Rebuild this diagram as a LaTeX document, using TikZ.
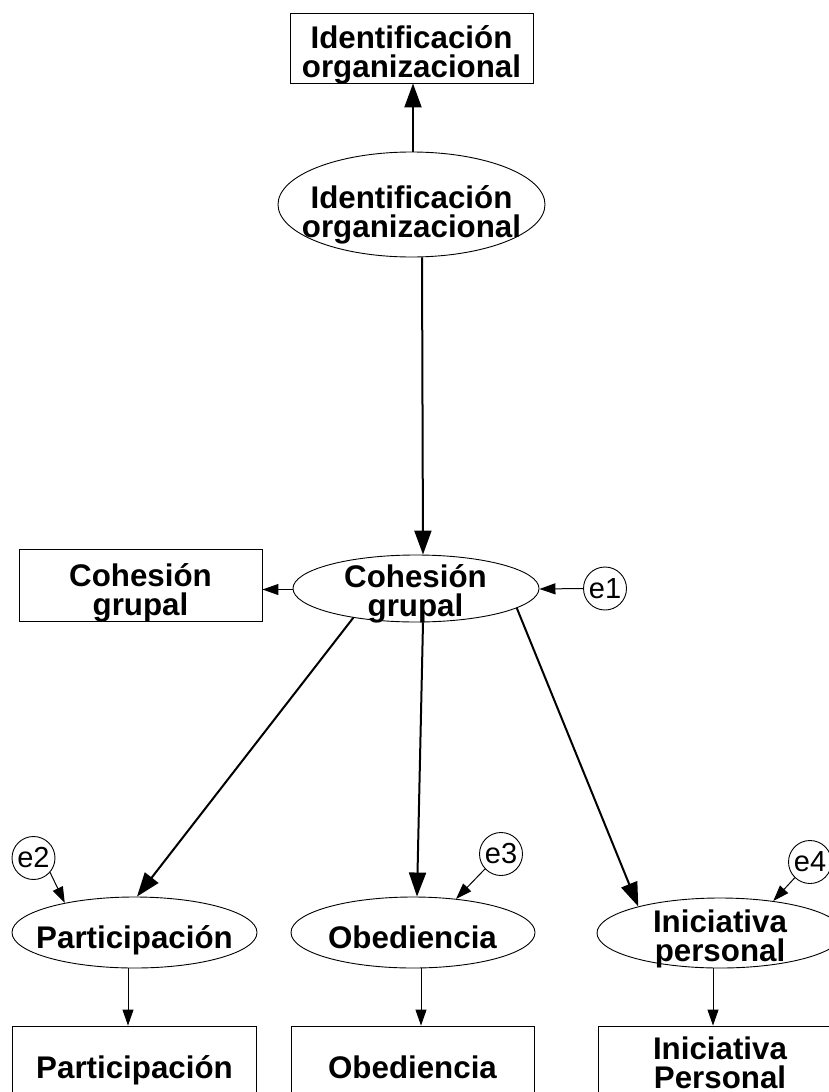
\documentclass[tikz,border=0pt]{standalone}
\usepackage{fontspec}
\setmainfont{Liberation Sans}
\usetikzlibrary{shapes.geometric,arrows.meta,calc}
\begin{document}
\begin{tikzpicture}[x=1pt,y=-1pt,
  latent/.style={draw, ellipse, line width=0.9pt, inner sep=0pt},
  obs/.style={draw, rectangle, line width=0.9pt, inner sep=0pt},
  err/.style={draw, circle, line width=0.9pt, inner sep=0pt, minimum size=43pt, font=\fontsize{29}{29}\selectfont},
  lbl/.style={align=center, anchor=base, font=\fontsize{31.3}{29}\selectfont\bfseries, inner sep=0pt},
  big/.style={line width=2pt, -{Triangle[length=24pt,width=17pt]}},
  small/.style={line width=1pt, -{Triangle[length=16pt,width=11pt]}}]
\fill[white] (0,0) rectangle (829,1092);
\useasboundingbox (0,0) rectangle (829,1092);
\node[obs, minimum width=243pt, minimum height=70pt] (IOb) at (411.5,48) {};
\node[latent, minimum width=267pt, minimum height=105pt] (IOe) at (411.5,204.5) {};
\node[obs, minimum width=243pt, minimum height=72pt] (CGb) at (140.5,585) {};
\node[latent, minimum width=246pt, minimum height=67pt] (CGe) at (416,588.5) {};
\node[err] (e1) at (605,588.5) {e1};
\node[err] (e2) at (33.5,858) {e2};
\node[err] (e3) at (501,854) {e3};
\node[err] (e4) at (810,862) {e4};
\node[latent, minimum width=245pt, minimum height=71pt] (Pe) at (134.5,932.5) {};
\node[latent, minimum width=244pt, minimum height=71pt] (Oe) at (413,932.5) {};
\node[latent, minimum width=246pt, minimum height=70pt] (Ie) at (720,933) {};
\node[obs, minimum width=244pt, minimum height=80pt] (Pb) at (134,1066) {};
\node[obs, minimum width=243pt, minimum height=80pt] (Ob) at (412.5,1066) {};
\node[obs, minimum width=243pt, minimum height=80pt] (Ib) at (719.5,1066) {};
\node[lbl] (tIOb) at (411.5,77) {Identificación\\organizacional};
\node[lbl] (tIOe) at (411.5,237) {Identificación\\organizacional};
\node[lbl] (tCGb) at (140.5,615) {Cohesión\\grupal};
\node[lbl] (tCGe) at (415.5,616) {Cohesión\\grupal};
\node[lbl] (tPe) at (134.5,948) {Participación};
\node[lbl] (tOe) at (412.5,948) {Obediencia};
\node[lbl] (tIe) at (720,961) {Iniciativa\\personal};
\node[lbl] (tPb) at (134.5,1078) {Participación};
\node[lbl] (tOb) at (412.5,1078) {Obediencia};
\node[lbl] (tIb) at (720,1088) {Iniciativa\\Personal};
\draw[big] ([xshift=1.5pt]IOe.north) -- ([xshift=1.5pt]IOb.south);
\draw[big] ([xshift=10.5pt]IOe.south) -- ([xshift=7pt]CGe.north);
\draw[small] ([yshift=-1pt]CGe.west) -- ([yshift=-4.5pt]CGb.east);
\draw[small] (e1.west) -- ([yshift=-0.5pt]CGe.east);
\draw[big] (CGe.205.5) -- ([xshift=2.5pt]Pe.north);
\draw[big] ([xshift=7pt]CGe.south) -- ([xshift=4pt]Oe.north);
\draw[big] (CGe.-11.6) -- (Ie.162.6);
\draw[small] (e2.-41.6) -- (Pe.157);
\draw[small] (e3.223) -- (Oe.38.4);
\draw[small] (e4.226.6) -- (Ie.31);
\draw[small] ([xshift=-6.5pt]Pe.south) -- ([xshift=-6pt]Pb.north);
\draw[small] ([xshift=8pt]Oe.south) -- ([xshift=8.5pt]Ob.north);
\draw[small] ([xshift=-7pt]Ie.south) -- ([xshift=-6.5pt]Ib.north);
\end{tikzpicture}
\end{document}
